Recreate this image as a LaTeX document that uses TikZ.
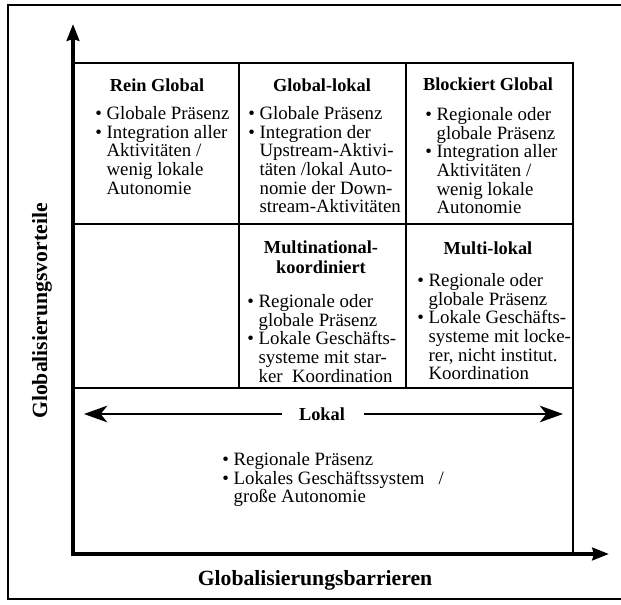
\documentclass[tikz,border=0pt]{standalone}
\usepackage{fontspec}
\setmainfont{Liberation Serif}
\usetikzlibrary{arrows.meta}
\newcommand{\bul}{\makebox[0.6em][l]{\textbullet}}
\newcommand{\ind}{\hspace*{0.6em}}
\tikzset{
  cell/.style={draw, line width=1.2pt, inner sep=0pt, anchor=north west},
  head/.style={font=\fontsize{11}{12}\selectfont\bfseries, align=center, inner sep=0pt},
  body/.style={font=\fontsize{11.3}{11.2}\selectfont, align=left, anchor=north west, inner sep=0pt},
  axis/.style={line width=2.4pt, -{Stealth[length=10pt,width=7.5pt,inset=1pt]}},
  twoway/.style={line width=0.9pt, -{Stealth[length=14pt,width=10pt,inset=4pt]}}
}
\begin{document}
\begin{tikzpicture}[x=0.6pt,y=-0.6pt]
\useasboundingbox (0,0) rectangle (621,604);
\draw[line width=1.2pt] (625,5) -- (8,5) -- (8,599) -- (625,599);
\node[cell, minimum width=99pt, minimum height=96.6pt] (rein) at (73,62) {};
\node[cell, minimum width=100.2pt, minimum height=96.6pt] (glolok) at (238,62) {};
\node[cell, minimum width=100.2pt, minimum height=96.6pt] (block) at (405,62) {};
\node[cell, minimum width=99pt, minimum height=98.4pt] (leer) at (73,223) {};
\node[cell, minimum width=100.2pt, minimum height=98.4pt] (multnat) at (238,223) {};
\node[cell, minimum width=100.2pt, minimum height=98.4pt] (multlok) at (405,223) {};
\node[cell, minimum width=299.4pt, minimum height=100.2pt] (lokal) at (73,387) {};
\coordinate (O) at (73,554);
\coordinate (ytip) at (73,24);
\coordinate (xtip) at (609,554);
\draw[axis] ([yshift=-1.2pt]O) -- (ytip);
\draw[axis] ([xshift=-1.2pt]O) -- (xtip);
\node[head] (reinT) at (157,85) {Rein Global};
\node[body] (reinB) at (95,106) {\bul Globale Präsenz\\ \bul Integration aller\\ \ind Aktivitäten /\\ \ind wenig lokale\\ \ind Autonomie};
\node[head] (glolokT) at (322,85) {Global-lokal};
\node[body] (glolokB) at (248,106) {\bul Globale Präsenz\\ \bul Integration der\\ \ind Upstream-Aktivi-\\ \ind täten /lokal Auto-\\ \ind nomie der Down-\\ \ind stream-Aktivitäten};
\node[head] (blockT) at (488,84) {Blockiert Global};
\node[body] (blockB) at (425,107) {\bul Regionale oder\\ \ind globale Präsenz\\ \bul Integration aller\\ \ind Aktivitäten /\\ \ind wenig lokale\\ \ind Autonomie};
\node[head] (multnatT) at (321,257) {Multinational-\\koordiniert};
\node[body] (multnatB) at (247,294) {\bul Regionale oder\\ \ind globale Präsenz\\ \bul Lokale Geschäfts-\\ \ind systeme mit star-\\ \ind ker~ Koordination};
\node[head] (multlokT) at (488,248) {Multi-lokal};
\node[body] (multlokB) at (417,273) {\bul Regionale oder\\ \ind globale Präsenz\\ \bul Lokale Geschäfts-\\ \ind systeme mit locke-\\ \ind rer, nicht institut.\\ \ind Koordination};
\node[head] (lokalT) at (322,414) {Lokal};
\coordinate (lokW) at (84,414);
\coordinate (lokE) at (563,414);
\draw[twoway] ([xshift=-10pt]lokalT.west) -- (lokW);
\draw[twoway] ([xshift=11pt]lokalT.east) -- (lokE);
\node[body] (lokalB) at (222,452) {\bul Regionale Präsenz\\ \bul Lokales Geschäftssystem~~ /\\ \ind große Autonomie};
\node[font=\fontsize{13}{15}\selectfont\bfseries] (xlab) at (315,580) {Globalisierungsbarrieren};
\node[font=\fontsize{13}{15}\selectfont\bfseries, rotate=90] (ylab) at (42,311) {Globalisierungsvorteile};
\end{tikzpicture}
\end{document}
